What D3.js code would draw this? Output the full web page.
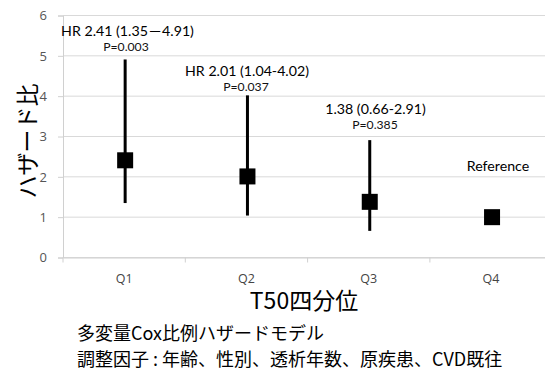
<!DOCTYPE html>
<html>
<head>
<meta charset="utf-8">
<script src="https://cdn.jsdelivr.net/npm/d3@7"></script>
<style>
  html, body { margin: 0; padding: 0; background: #fff; }
  svg { display: block; font-family: Lato, "Noto Sans CJK JP", sans-serif; }
</style>
</head>
<body>
<svg id="chart" width="545" height="370"></svg>
<script>
// Hazard ratios by T50 quartile (Q4 = reference)
const categories = ["Q1", "Q2", "Q3", "Q4"];
const hr = [2.41, 2.01, 1.38, 1.00];
const ciLower = [1.35, 1.04, 0.66, null];
const ciUpper = [4.91, 4.02, 2.91, null];
const hrLabels = ["HR 2.41 (1.35－4.91)", "HR 2.01 (1.04-4.02)", "1.38 (0.66-2.91)", "Reference"];
const pLabels = ["P=0.003", "P=0.037", "P=0.385", null];
const yTicks = [0, 1, 2, 3, 4, 5, 6];
const xTitle = "T50四分位";
const yTitle = "ハザード比";
const notes = ["多変量Cox比例ハザードモデル", "調整因子 : 年齢、性別、透析年数、原疾患、CVD既往"];

const svg = d3.select("#chart");
const plotLeft = 63, bandW = 122.3, plotTop = 15.5, plotBottom = 257.5;

const x = d3.scaleBand().domain(categories).range([plotLeft, plotLeft + bandW * categories.length]);
const y = d3.scaleLinear().domain([0, 6]).range([plotBottom, plotTop]);

// gridlines
svg.append("g").selectAll("line").data(yTicks).join("line")
  .attr("x1", plotLeft).attr("x2", 545)
  .attr("y1", d => y(d)).attr("y2", d => y(d))
  .attr("stroke", "#d9d9d9").attr("stroke-width", 1);

// y axis
const yAxis = svg.append("g").attr("transform", `translate(${plotLeft},0)`)
  .call(d3.axisLeft(y).tickValues(yTicks).tickSize(5).tickPadding(11).tickFormat(d3.format("d")));
yAxis.select(".domain").attr("stroke", "#d0d0d0");
yAxis.selectAll(".tick line").attr("stroke", "#d0d0d0");
yAxis.selectAll("text").attr("fill", "#555").style("font-size", "13px").style("font-family", "'Open Sans', sans-serif");

// x axis
const xAxis = svg.append("g").attr("transform", `translate(0,${plotBottom})`)
  .call(d3.axisBottom(x).tickSize(0).tickPadding(14));
xAxis.select(".domain").attr("stroke", "#d0d0d0");
xAxis.selectAll("text").attr("fill", "#444").attr("dy", "0.95em").style("font-size", "12.5px").style("font-family", "'Open Sans', sans-serif");
// category boundary ticks
const bounds = d3.range(categories.length + 1).map(i => plotLeft + bandW * i);
svg.append("g").selectAll("line").data(bounds).join("line")
  .attr("x1", d => d).attr("x2", d => d)
  .attr("y1", plotBottom).attr("y2", plotBottom + 5)
  .attr("stroke", "#d0d0d0");

// error bars
const cx = d => x(d) + x.bandwidth() / 2 + 1;
const rows = categories.map((c, i) => ({ c, hr: hr[i], lo: ciLower[i], hi: ciUpper[i] }));
svg.append("g").selectAll("line").data(rows.filter(r => r.lo != null)).join("line")
  .attr("x1", r => cx(r.c)).attr("x2", r => cx(r.c))
  .attr("y1", r => y(r.lo)).attr("y2", r => y(r.hi))
  .attr("stroke", "#000").attr("stroke-width", 3);

// point estimates
const sq = 16;
svg.append("g").selectAll("rect").data(rows).join("rect")
  .attr("x", r => cx(r.c) - sq / 2).attr("y", r => y(r.hr) - sq / 2)
  .attr("width", sq).attr("height", sq).attr("fill", "#000");

// annotations
const hrPos = [[127.5, 31], [247, 71], [375.5, 109], [498, 166]];
const pPos = [[126, 47], [246, 87], [375, 125]];
svg.append("g").selectAll("text").data(hrLabels).join("text")
  .attr("x", (d, i) => hrPos[i][0]).attr("y", (d, i) => hrPos[i][1])
  .attr("dy", "0.35em").attr("text-anchor", "middle")
  .attr("fill", "#000").style("font-size", "14.2px")
  .text(d => d);
svg.append("g").selectAll("text").data(pLabels.filter(p => p)).join("text")
  .attr("x", (d, i) => pPos[i][0]).attr("y", (d, i) => pPos[i][1])
  .attr("dy", "0.35em").attr("text-anchor", "middle")
  .attr("fill", "#111").style("font-size", "12.2px")
  .text(d => d);

// axis titles
svg.append("text").attr("x", 304).attr("y", 301).attr("dy", "0.35em")
  .attr("text-anchor", "middle").style("font-size", "23px")
  .style("font-family", "'Noto Sans CJK JP', sans-serif").attr("fill", "#000")
  .text(xTitle);
svg.append("text").attr("transform", "translate(28,141) rotate(-90)").attr("dy", "0.35em")
  .attr("text-anchor", "middle").style("font-size", "23px")
  .style("font-family", "'Noto Sans CJK JP', sans-serif").attr("fill", "#000")
  .text(yTitle);

// model notes
svg.append("g").selectAll("text").data(notes).join("text")
  .attr("x", 77).attr("y", (d, i) => 334 + i * 26).attr("dy", "0.35em")
  .style("font-size", "18px").style("font-family", "'Noto Sans CJK JP', sans-serif")
  .attr("fill", "#000").text(d => d);
</script>
</body>
</html>
